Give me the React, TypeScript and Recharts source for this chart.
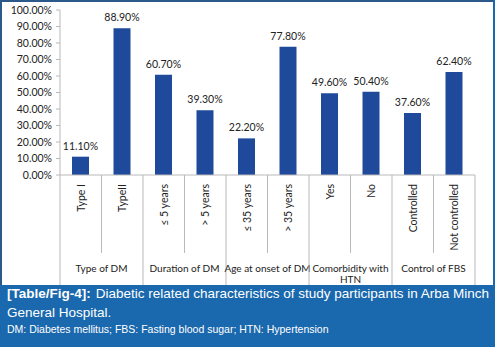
import { BarChart, Bar, XAxis, YAxis, LabelList } from 'recharts';

// categories, grouped in pairs under a shared heading
const CATEGORIES = [
  'Type I', 'TypeII',
  '≤ 5 years', '> 5 years',
  '≤ 35 years', '> 35 years',
  'Yes', 'No',
  'Controlled', 'Not controlled',
];
const GROUPS = [
  ['Type of DM'],
  ['Duration of DM'],
  ['Age at onset of DM'],
  ['Comorbidity with', 'HTN'],
  ['Control of FBS'],
];
const VALUES = [11.1, 88.9, 60.7, 39.3, 22.2, 77.8, 49.6, 50.4, 37.6, 62.4];
const Y_TICKS = [0, 10, 20, 30, 40, 50, 60, 70, 80, 90, 100];

const data = CATEGORIES.map((name, i) => ({ name, value: VALUES[i] }));

const FONT = 'Lato, "Open Sans", sans-serif';
const BAR = '#1f4a9b';
const LINE = '#b9b9b9';

const pct = (v: number) => `${Number(v).toFixed(2)}%`;

function CatTick(props: any) {
  const { x, y, payload, index, width } = props;
  const band = (width || 415) / CATEGORIES.length;
  const left = x - band / 2;
  const groupStart = index % 2 === 0;
  const group = GROUPS[Math.floor(index / 2)];
  return (
    <g>
      <line x1={left} y1={y} x2={left} y2={y + (groupStart ? 110 : 78)} stroke={LINE} />
      {index === CATEGORIES.length - 1 && (
        <line x1={x + band / 2} y1={y} x2={x + band / 2} y2={y + 110} stroke={LINE} />
      )}
      <text
        transform={`translate(${x + 4},${y + 9}) rotate(-90)`}
        textAnchor="end"
        fontSize={10.5}
        fontFamily={FONT}
        fill="#222"
      >
        {payload.value}
      </text>
      {groupStart && (
        <text x={x + band / 2} y={y + 97} textAnchor="middle" fontSize={10} fontFamily={FONT} fill="#222">
          {group.map((t, k) => (
            <tspan key={k} x={x + band / 2} dy={k === 0 ? 0 : 11}>{t}</tspan>
          ))}
        </text>
      )}
    </g>
  );
}

export default function App() {
  return (
    <div style={{ position: 'absolute', left: 0, top: 0, width: 495, height: 347, background: '#1a68ad' }}>
      <div
        style={{
          position: 'absolute', left: 0, top: 0, width: 493, height: 285,
          background: '#fff', borderLeft: '2px solid #2b5a8a', borderTop: '2px solid #2b5a8a',
          boxSizing: 'border-box',
        }}
      />
      <div style={{ position: 'absolute', left: 0, top: 0 }}>
        <BarChart width={495} height={285} data={data} margin={{ top: 10, right: 20, bottom: 0, left: 0 }}>
          <XAxis
            dataKey="name"
            interval={0}
            height={110}
            tickSize={0}
            tickMargin={0}
            tickLine={false}
            axisLine={{ stroke: LINE }}
            tick={<CatTick />}
          />
          <YAxis
            domain={[0, 100]}
            ticks={Y_TICKS}
            width={60}
            tickSize={4}
            tickMargin={4}
            tickLine={{ stroke: LINE }}
            axisLine={{ stroke: LINE }}
            tickFormatter={pct}
            tick={{ fontSize: 10.5, fontFamily: FONT, fill: '#222' }}
            interval={0}
          />
          <Bar dataKey="value" fill={BAR} barSize={17} isAnimationActive={false}>
            <LabelList
              dataKey="value"
              position="top"
              offset={7}
              formatter={(v: any) => pct(v)}
              style={{ fontSize: 10.5, fontFamily: FONT, fill: '#222' }}
            />
          </Bar>
        </BarChart>
      </div>
      <div
        style={{
          position: 'absolute', left: 7, top: 284, width: 488, color: '#fff',
          fontFamily: '"Liberation Sans", Arial, sans-serif', whiteSpace: 'nowrap',
        }}
      >
        <div style={{ fontSize: 13.5, lineHeight: '19px' }}>
          <b style={{ marginRight: 5 }}>[Table/Fig-4]:</b>
          <span>Diabetic related characteristics of study participants in Arba Minch</span>
        </div>
        <div style={{ fontSize: 13.5, lineHeight: '19px' }}>General Hospital.</div>
        <div style={{ fontSize: 10.5, lineHeight: '15px' }}>
          DM: Diabetes mellitus; FBS: Fasting blood sugar; HTN: Hypertension
        </div>
      </div>
    </div>
  );
}
